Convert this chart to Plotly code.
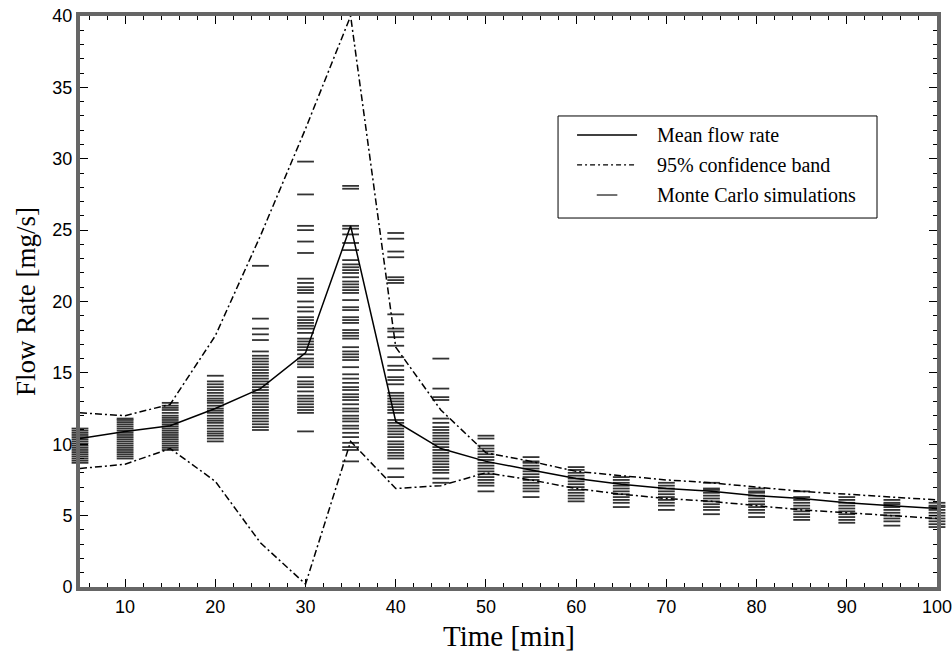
import plotly.graph_objects as go

time_min = [5, 10, 15, 20, 25, 30, 35, 40, 45, 50, 55, 60, 65, 70, 75, 80, 85, 90, 95, 100]
mean_flow = [10.4, 10.9, 11.3, 12.5, 13.9, 16.4, 25.3, 11.6, 9.7, 8.8, 8.2, 7.6, 7.2, 6.9, 6.7, 6.4, 6.2, 5.9, 5.7, 5.5]
upper_band = [12.2, 12.0, 12.8, 17.6, 24.6, 32.1, 40.0, 16.8, 12.4, 9.4, 8.8, 8.1, 7.8, 7.5, 7.3, 7.0, 6.7, 6.5, 6.3, 6.1]
lower_band = [8.3, 8.6, 9.7, 7.4, 3.1, 0.2, 10.2, 6.9, 7.1, 8.0, 7.5, 6.9, 6.5, 6.2, 6.0, 5.7, 5.4, 5.2, 5.0, 4.8]

sim_05 = [8.7, 8.85, 9.0, 9.15, 9.3, 9.45, 9.6, 9.75, 9.9, 10.05, 10.2, 10.35, 10.5, 10.65, 10.8, 10.95, 11.1]
sim_10 = [9.0, 9.15, 9.3, 9.45, 9.6, 9.75, 9.9, 10.05, 10.2, 10.35, 10.5, 10.65, 10.8, 10.95, 11.1, 11.25, 11.4, 11.55, 11.7, 11.8]
sim_15 = [9.6, 9.75, 9.9, 10.05, 10.2, 10.35, 10.5, 10.65, 10.8, 10.95, 11.1, 11.25, 11.4, 11.55, 11.7, 11.85, 12.0, 12.2, 12.4, 12.55, 12.7, 12.9]
sim_20 = [10.2, 10.4, 10.6, 10.75, 10.9, 11.1, 11.3, 11.5, 11.65, 11.8, 12.0, 12.2, 12.35, 12.5, 12.7, 12.9, 13.05, 13.2, 13.4, 13.6, 13.8, 14.0, 14.2, 14.4, 14.8]
sim_25 = [11.0, 11.2, 11.4, 11.6, 11.8, 12.0, 12.2, 12.4, 12.6, 12.8, 13.0, 13.2, 13.4, 13.6, 13.8, 14.0, 14.2, 14.4, 14.6, 14.8, 15.0, 15.2, 15.4, 15.6, 15.8, 16.0, 16.2, 16.5, 17.3, 17.7, 18.1, 18.8, 22.5]
sim_30 = [10.9, 12.2, 12.4, 12.6, 12.8, 13.0, 13.2, 13.4, 13.7, 14.0, 14.2, 14.4, 14.7, 15.4, 15.6, 15.8, 16.0, 16.3, 16.6, 16.8, 17.0, 17.2, 17.4, 17.8, 18.1, 18.3, 18.5, 18.7, 18.9, 19.3, 19.6, 20.0, 20.6, 20.8, 21.0, 21.3, 21.6, 23.4, 24.2, 25.0, 25.3, 27.5, 29.8]
sim_35 = [8.8, 9.6, 9.8, 10.1, 10.5, 10.8, 11.1, 11.3, 11.6, 11.8, 12.0, 12.3, 12.5, 12.8, 13.1, 13.3, 13.5, 13.8, 14.0, 14.3, 14.6, 14.9, 15.4, 15.9, 16.1, 16.3, 16.5, 16.8, 17.4, 17.6, 17.8, 18.0, 18.5, 18.7, 18.9, 19.4, 19.6, 20.1, 20.6, 20.8, 21.0, 21.2, 21.4, 21.7, 22.0, 22.2, 22.4, 22.6, 22.9, 23.6, 24.1, 24.7, 25.1, 25.3, 27.9, 28.1]
sim_40 = [7.7, 8.3, 9.0, 9.2, 9.4, 9.6, 9.8, 10.0, 10.2, 10.5, 10.7, 10.9, 11.1, 11.3, 11.5, 11.7, 12.2, 12.4, 12.6, 12.8, 13.0, 13.2, 13.4, 13.6, 14.2, 14.5, 14.7, 15.2, 15.5, 16.1, 16.9, 17.5, 17.9, 18.1, 19.1, 21.3, 21.5, 21.7, 23.1, 23.5, 24.4, 24.8]
sim_45 = [7.3, 7.6, 8.0, 8.2, 8.4, 8.6, 8.8, 9.0, 9.2, 9.4, 9.6, 9.8, 10.0, 10.2, 10.4, 10.6, 10.8, 11.0, 11.2, 11.5, 11.8, 13.1, 13.3, 13.9, 16.0]
sim_50 = [6.7, 7.1, 7.3, 7.5, 7.7, 7.9, 8.1, 8.3, 8.5, 8.7, 8.9, 9.1, 9.3, 9.5, 9.7, 9.9, 10.4, 10.6]
sim_55 = [6.3, 6.7, 6.9, 7.1, 7.3, 7.5, 7.7, 7.9, 8.1, 8.3, 8.5, 8.7, 8.8, 9.1]
sim_60 = [6.0, 6.2, 6.4, 6.6, 6.8, 7.0, 7.2, 7.4, 7.6, 7.8, 8.0, 8.2, 8.4]
sim_65 = [5.6, 5.9, 6.1, 6.3, 6.5, 6.7, 6.9, 7.1, 7.3, 7.5, 7.7]
sim_70 = [5.4, 5.7, 5.9, 6.1, 6.3, 6.5, 6.7, 6.9, 7.1, 7.3]
sim_75 = [5.1, 5.4, 5.6, 5.8, 6.0, 6.2, 6.4, 6.6, 6.8, 6.9, 7.3]
sim_80 = [4.9, 5.2, 5.4, 5.6, 5.8, 6.0, 6.2, 6.4, 6.6, 6.7, 6.9]
sim_85 = [4.7, 4.9, 5.1, 5.3, 5.5, 5.7, 5.9, 6.1, 6.3, 6.7]
sim_90 = [4.5, 4.7, 4.9, 5.1, 5.3, 5.5, 5.7, 5.9, 6.1, 6.3]
sim_95 = [4.3, 4.6, 4.8, 5.0, 5.2, 5.4, 5.6, 5.8, 5.9, 6.1]
sim_100 = [4.2, 4.4, 4.6, 4.8, 5.0, 5.2, 5.4, 5.6, 5.7, 5.9]

sim_columns = [sim_05, sim_10, sim_15, sim_20, sim_25, sim_30, sim_35, sim_40, sim_45, sim_50,
               sim_55, sim_60, sim_65, sim_70, sim_75, sim_80, sim_85, sim_90, sim_95, sim_100]

legend_labels = ["Mean flow rate", "95% confidence band", "Monte Carlo simulations"]
x_title = "Time [min]"
y_title = "Flow Rate [mg/s]"

sim_x, sim_y = [], []
for t, vals in zip(time_min, sim_columns):
    sim_x.extend([t] * len(vals))
    sim_y.extend(vals)

serif = "Liberation Serif"
sans = "Liberation Sans"
DASHDOT = "7px,3px,2px,3px"

fig = go.Figure()
fig.add_trace(go.Scatter(
    x=sim_x, y=sim_y, mode="markers", name=legend_labels[2], cliponaxis=False, showlegend=False,
    marker=dict(symbol="line-ew", size=12, line=dict(color="#333333", width=1.8))))
fig.add_trace(go.Scatter(
    x=time_min, y=mean_flow, mode="lines", name=legend_labels[0], showlegend=False,
    line=dict(color="black", width=1.5)))
fig.add_trace(go.Scatter(
    x=time_min, y=upper_band, mode="lines", name=legend_labels[1], showlegend=False,
    line=dict(color="black", width=1.5, dash=DASHDOT)))
fig.add_trace(go.Scatter(
    x=time_min, y=lower_band, mode="lines", name=legend_labels[1], showlegend=False,
    line=dict(color="black", width=1.5, dash=DASHDOT)))

axis_common = dict(
    showgrid=False, zeroline=False, showline=True, linecolor="#666666", linewidth=4,
    mirror="ticks", ticks="inside", tickcolor="black", tickwidth=1, automargin=False,
    ticklabeloverflow="allow",
    tickfont=dict(family=sans, size=18, color="black"),
)

fig.update_xaxes(
    range=[5, 100], tick0=0, dtick=10, ticklen=8,
    minor=dict(dtick=2, tick0=0, ticks="inside", ticklen=4, tickcolor="black"),
    **axis_common)
fig.update_yaxes(
    range=[0, 40], tick0=0, dtick=5, ticklen=8,
    minor=dict(dtick=1, tick0=0, ticks="inside", ticklen=4, tickcolor="black"),
    title=dict(text=y_title, font=dict(family=serif, size=27, color="black"), standoff=10),
    **axis_common)

# legend box drawn in paper coordinates
lx0, lx1, ly0, ly1 = 0.5578, 0.9300, 0.6462, 0.8249
row_y = [0.7916, 0.7391, 0.6865]
sx0, sx1 = 0.5800, 0.6500
text_x = 0.6709

shapes = [dict(type="rect", xref="paper", yref="paper", x0=lx0, x1=lx1, y0=ly0, y1=ly1,
               line=dict(color="black", width=1), fillcolor="white", layer="above")]
shapes.append(dict(type="line", xref="paper", yref="paper", x0=sx0, x1=sx1, y0=row_y[0], y1=row_y[0],
                   line=dict(color="black", width=1.3), layer="above"))
shapes.append(dict(type="line", xref="paper", yref="paper", x0=sx0, x1=sx1, y0=row_y[1], y1=row_y[1],
                   line=dict(color="black", width=1.3, dash="5px,3px,2px,3px"), layer="above"))
shapes.append(dict(type="line", xref="paper", yref="paper", x0=0.6030, x1=0.6270, y0=row_y[2], y1=row_y[2],
                   line=dict(color="#444444", width=1.5), layer="above"))

annotations = [dict(xref="paper", yref="paper", x=text_x, y=yy, text=lab, showarrow=False,
                    xanchor="left", yanchor="middle",
                    font=dict(family=serif, size=20, color="black"))
               for lab, yy in zip(legend_labels, row_y)]
annotations.append(dict(xref="paper", yref="paper", x=0.5, y=-0.0535, text=x_title, showarrow=False,
                        xanchor="center", yanchor="top",
                        font=dict(family=serif, size=29, color="black")))

fig.update_layout(
    width=952, height=657,
    margin=dict(l=80, r=15, t=16, b=70),
    paper_bgcolor="white", plot_bgcolor="white",
    showlegend=False,
    shapes=shapes, annotations=annotations,
)

fig.write_html("out.html", config={"displayModeBar": False},
               post_script="document.body.style.margin='0px';")
